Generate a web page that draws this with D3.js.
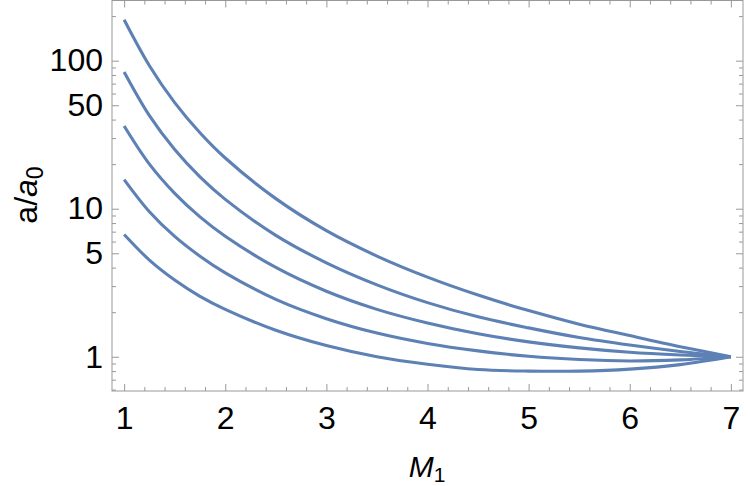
<!DOCTYPE html>
<html>
<head>
<meta charset="utf-8">
<script src="https://cdn.jsdelivr.net/npm/d3@7"></script>
<style>
  body { margin: 0; background: #fff; }
  svg { font-family: "Liberation Sans", Arial, sans-serif; }
</style>
</head>
<body>
<svg width="750" height="486"></svg>
<script>
// M1 sample points and a/a0 for each curve
const m1 = [1, 1.25, 1.5, 1.75, 2, 2.5, 3, 3.5, 4, 4.5, 5, 5.5, 6, 6.5, 7];
const curveA = [189, 92.5, 52.1, 32.6, 22.0, 11.7, 7.11, 4.79, 3.45, 2.61, 2.05, 1.66, 1.39, 1.17, 1];
const curveB = [83.8, 42.5, 25.1, 16.4, 11.56, 6.61, 4.31, 3.06, 2.32, 1.86, 1.567, 1.349, 1.20, 1.086, 1];
const curveC = [36.2, 20.0, 12.7, 8.81, 6.52, 4.01, 2.77, 2.09, 1.69, 1.43, 1.26, 1.148, 1.072, 1.028, 1];
const curveD = [15.74, 9.55, 6.50, 4.78, 3.69, 2.44, 1.807, 1.445, 1.23, 1.096, 1.007, 0.957, 0.936, 0.953, 1];
const curveE = [6.7, 4.5, 3.3, 2.56, 2.09, 1.51, 1.19, 1.0, 0.89, 0.82, 0.80, 0.80, 0.825, 0.885, 1];

const xMajor = [1, 2, 3, 4, 5, 6, 7];
const yMajor = [1, 5, 10, 50, 100];

const svg = d3.select('svg');
const plotLeft = 112, plotRight = 743, plotTop = 0.5, plotBottom = 391;
const frameColor = '#999';
const lineColor = '#5e81b5';
const labelFont = '"Liberation Sans", Arial, sans-serif';

const xScale = d3.scaleLinear().domain([0.88, 7.12]).range([plotLeft, plotRight]);
const yScale = d3.scaleLog().domain([0.587, 255]).range([plotBottom, plotTop]);

// minor ticks
const xMinor = d3.range(10, 71, 2).map(d => d / 10).filter(d => !xMajor.includes(d));
const yMinor = [0.6, 0.7, 0.8, 0.9, 2, 3, 4, 6, 7, 8, 9, 20, 30, 40, 60, 70, 80, 90, 200];

const fmt = () => '';

const addAxis = (axis, transform) => {
  const g = svg.append('g')
    .attr('transform', transform)
    .call(axis);
  g.selectAll('.domain').remove();
  g.selectAll('.tick line').attr('stroke', frameColor);
  return g;
};

// bottom
addAxis(d3.axisBottom(xScale).tickValues(xMinor).tickSize(-4).tickFormat(fmt), `translate(0,${plotBottom})`);
const xAxisG = addAxis(d3.axisBottom(xScale).tickValues(xMajor).tickSize(-7).tickPadding(15).tickFormat(d3.format('d')), `translate(0,${plotBottom})`);
// top
addAxis(d3.axisTop(xScale).tickValues(xMinor).tickSize(-4).tickFormat(fmt), `translate(0,${plotTop})`);
addAxis(d3.axisTop(xScale).tickValues(xMajor).tickSize(-7).tickFormat(fmt), `translate(0,${plotTop})`);
// left
addAxis(d3.axisLeft(yScale).tickValues(yMinor).tickSize(-4).tickFormat(fmt), `translate(${plotLeft},0)`);
const yAxisG = addAxis(d3.axisLeft(yScale).tickValues(yMajor).tickSize(-7).tickPadding(9).tickFormat(d3.format('d')), `translate(${plotLeft},0)`);
// right
addAxis(d3.axisRight(yScale).tickValues(yMinor).tickSize(-4).tickFormat(fmt), `translate(${plotRight},0)`);
addAxis(d3.axisRight(yScale).tickValues(yMajor).tickSize(-7).tickFormat(fmt), `translate(${plotRight},0)`);

[xAxisG, yAxisG].forEach(g => {
  g.attr('font-size', 32).attr('font-family', labelFont);
  g.selectAll('text').attr('fill', '#000');
});

// frame
svg.append('rect')
  .attr('x', plotLeft)
  .attr('y', plotTop)
  .attr('width', plotRight - plotLeft)
  .attr('height', plotBottom - plotTop)
  .attr('fill', 'none')
  .attr('stroke', frameColor)
  .attr('stroke-width', 1);

// curves
const series = [curveA, curveB, curveC, curveD, curveE];
const line = d3.line()
  .x((d, i) => xScale(m1[i]))
  .y(d => yScale(d))
  .curve(d3.curveCatmullRom.alpha(0.5));

svg.append('g')
  .selectAll('path')
  .data(series)
  .enter().append('path')
    .attr('d', line)
    .attr('fill', 'none')
    .attr('stroke', lineColor)
    .attr('stroke-width', 3.1)
    .attr('stroke-linejoin', 'round');

// axis titles
const xTitle = svg.append('text')
  .attr('x', 427)
  .attr('y', 477)
  .attr('text-anchor', 'middle')
  .attr('font-size', 30)
  .attr('fill', '#000');
xTitle.append('tspan').attr('font-style', 'italic').text('M');
xTitle.append('tspan').attr('font-size', 21).attr('dy', 5).text('1');

const yTitle = svg.append('text')
  .attr('transform', 'translate(37,195) rotate(-90)')
  .attr('text-anchor', 'middle')
  .attr('font-size', 32)
  .attr('fill', '#000');
yTitle.append('tspan').text('a/');
yTitle.append('tspan').attr('font-style', 'italic').text('a');
yTitle.append('tspan').attr('font-size', 23).attr('dy', 6).text('0');
</script>
</body>
</html>
